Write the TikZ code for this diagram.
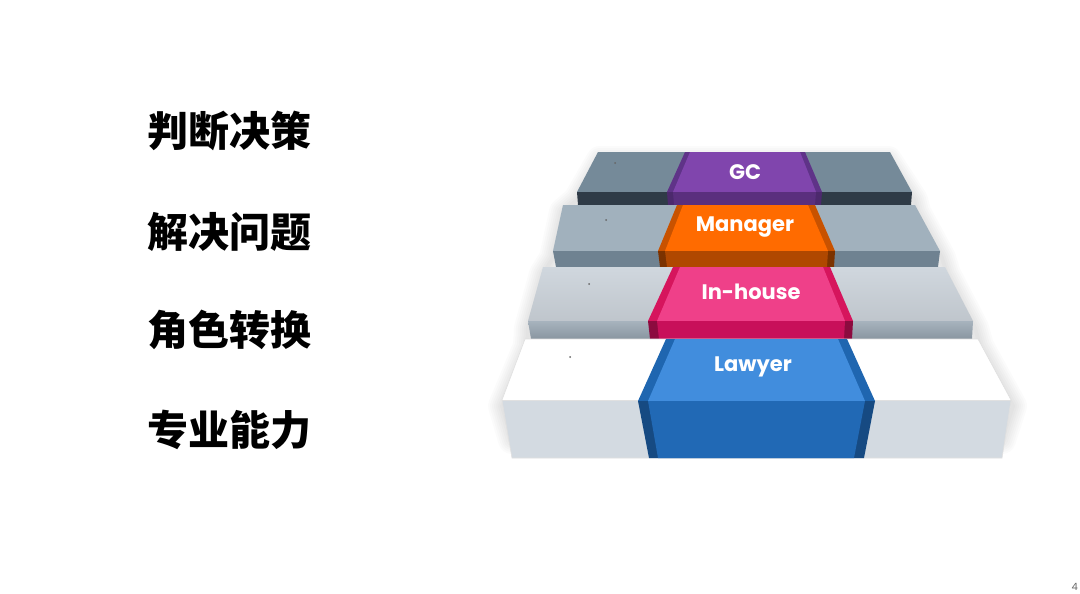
\documentclass[tikz,border=0pt]{standalone}
\usepackage{fontspec}
\usepackage{tikz}
\setmainfont{Poppins}
\newfontfamily\cjk{Noto Sans CJK SC}
\definecolor{gctop}{HTML}{758A99}
\definecolor{gcfront}{HTML}{2F3B47}
\definecolor{mgtop}{HTML}{A1B1BD}
\definecolor{mgfront}{HTML}{6F8291}
\definecolor{ihtop}{HTML}{D0D7DE}
\definecolor{ihfront}{HTML}{98A6B2}
\definecolor{lwtop}{HTML}{FFFFFF}
\definecolor{lwfront}{HTML}{D3DAE1}
\definecolor{purpledark}{HTML}{5F3388}
\definecolor{purplemain}{HTML}{8045AD}
\definecolor{purplefront}{HTML}{5A2F7E}
\definecolor{orangedark}{HTML}{C85200}
\definecolor{orangemain}{HTML}{FF6B00}
\definecolor{orangefront}{HTML}{B04800}
\definecolor{pinkdark}{HTML}{D6155D}
\definecolor{pinkmain}{HTML}{EF4089}
\definecolor{pinkfront}{HTML}{C8105A}
\definecolor{bluedark}{HTML}{1F66B0}
\definecolor{bluemain}{HTML}{418DDD}
\definecolor{bluefront}{HTML}{2169B5}
\definecolor{blueedge}{HTML}{164A82}

\begin{document}
\begin{tikzpicture}[x=1pt, y=-1pt,
	 rowtext/.style={anchor=west, inner sep=0pt, font=\cjk\bfseries\fontsize{41}{41}\selectfont},
	 bandlabel/.style={inner sep=0pt, text=white, font=\bfseries\fontsize{21}{21}\selectfont},
	 speck/.style={fill=black!60, draw=none},
	 stepedge/.style={draw=black!12, line width=0.6pt}]
	    \useasboundingbox[fill=white] (0,0) rectangle (1080,594);
	    % left column
	    \node (judge) at (147,131) [rowtext] {判断决策};
	    \node (solve) at (147,232) [rowtext] {解决问题};
	    \node (role) at (147,330) [rowtext] {角色转换};
	    \node (skill) at (147,430) [rowtext] {专业能力};
	    % soft shadow round the stairs
	    \foreach \w in {4,8,...,28}
	        \draw[black, opacity=0.016, line width=\w pt, line join=round]
	            (600,160) -- (888,160) -- (914,200) -- (917,212) -- (942,258) -- (947,274) -- (975,328)
	            -- (980,346) -- (1013,406) -- (1002,440) -- (512,440) -- (502,406) -- (527,346)
	            -- (528,328) -- (543,274) -- (553,258) -- (563,212) -- (577,200) -- cycle;
	    % step 1: GC
	    \fill[gctop] (598,152) -- (890,152) -- (912,192) -- (577,192) -- cycle;
	    \fill[gcfront] (577,192) -- (912,192) -- (911,205) -- (578,205) -- cycle;
	    \fill[purpledark] (685,152) -- (805,152) -- (822,192) -- (667,192) -- cycle;
	    \fill[purplemain] (690,152) -- (800,152) -- (816,192) -- (673,192) -- cycle;
	    \fill[purpledark!80!black] (667,192) -- (822,192) -- (821,205) -- (668,205) -- cycle;
	    \fill[purplefront] (673,192) -- (816,192) -- (815,205) -- (674,205) -- cycle;
	    \fill[speck] (615,163) circle (1pt);
	    \node (gc) at (745,172) [bandlabel] {GC};
	    % step 2: Manager
	    \fill[mgtop] (563,205) -- (915,205) -- (940,251) -- (553,251) -- cycle;
	    \fill[mgfront] (553,251) -- (940,251) -- (938,267) -- (556,267) -- cycle;
	    \fill[orangedark] (677,205) -- (815,205) -- (835,251) -- (658,251) -- cycle;
	    \fill[orangemain] (683,205) -- (808,205) -- (828,251) -- (665,251) -- cycle;
	    \fill[orangefront!70!black] (658,251) -- (835,251) -- (834,267) -- (660,267) -- cycle;
	    \fill[orangefront] (665,251) -- (828,251) -- (827,267) -- (667,267) -- cycle;
	    \fill[speck] (606,220) circle (1pt);
	    \node (manager) at (745,227) [bandlabel] {Manager};
	    % step 3: In-house
	    \shade[top color=ihtop, bottom color=ihtop!92!black] (543,267) -- (945,267) -- (973,321) -- (528,321) -- cycle;
	    \shade[top color=ihfront!85!white, bottom color=ihfront!90!black] (528,321) -- (973,321) -- (972,339) -- (531,339) -- cycle;
	    \fill[pinkdark] (673,267) -- (830,267) -- (853,321) -- (648,321) -- cycle;
	    \fill[pinkmain] (680,267) -- (823,267) -- (845,321) -- (657,321) -- cycle;
	    \fill[pinkfront!70!black] (648,321) -- (853,321) -- (852,339) -- (650,339) -- cycle;
	    \fill[pinkfront] (657,321) -- (845,321) -- (844,339) -- (659,339) -- cycle;
	    \fill[speck] (589,284) circle (1pt);
	    \node (inhouse) at (751,292) [bandlabel] {In-house};
	    % step 4: Lawyer
	    \fill[lwtop] (525,339) -- (978,339) -- (1011,400) -- (502,400) -- cycle;
	    \fill[lwfront] (502,400) -- (1011,400) -- (1002,458) -- (512,458) -- cycle;
	    \draw[stepedge] (525,339) -- (978,339) -- (1011,400) -- (1002,458) -- (512,458) -- (502,400) -- cycle;
	    \draw[stepedge] (502,400) -- (1011,400);
	    \fill[bluedark] (666,339) -- (847,339) -- (875,401) -- (638,401) -- cycle;
	    \fill[bluemain] (675,339) -- (838,339) -- (865,401) -- (648,401) -- cycle;
	    \fill[blueedge] (638,401) -- (875,401) -- (864,458) -- (649,458) -- cycle;
	    \fill[bluefront] (648,401) -- (865,401) -- (854,458) -- (658,458) -- cycle;
	    \fill[speck] (570,357) circle (1pt);
	    \node (lawyer) at (753,367) [bandlabel] {Lawyer};
	    % page number
	    \node (pagenum) at (1078,591) [anchor=south east, inner sep=0pt, text=black!60, font=\fontsize{10}{10}\selectfont] {4};
\end{tikzpicture}
\end{document}
